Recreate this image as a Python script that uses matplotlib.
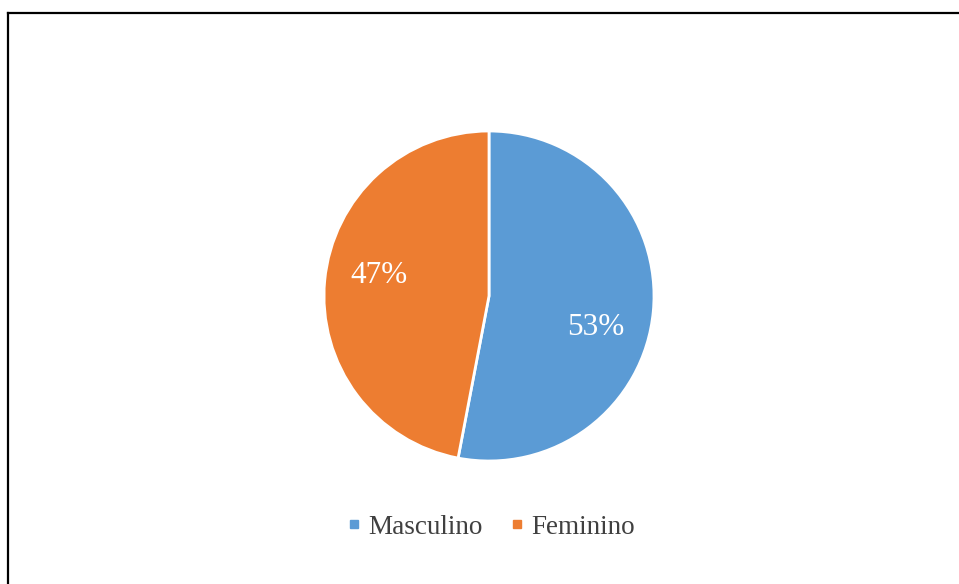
import matplotlib
matplotlib.use('Agg')
import matplotlib.pyplot as plt
from matplotlib.lines import Line2D

plt.rcParams['font.family'] = ['Liberation Serif', 'DejaVu Serif']

# Data
categories = ['Masculino', 'Feminino']
shares = [53, 47]
colors = ['#5B9BD5', '#ED7D31']

W, H = 959, 584
fig = plt.figure(figsize=(W / 100, H / 100), dpi=100)

# pie axes: centre (489, 296) px, radius 165 px
cx, cy, r = 489, 296, 165
ax = fig.add_axes([(cx - r) / W, (H - cy - r) / H, 2 * r / W, 2 * r / H])
wedges, _, autotexts = ax.pie(shares, colors=colors, startangle=90, counterclock=False,
                              radius=1, autopct='%.0f%%', pctdistance=0.68,
                              wedgeprops=dict(edgecolor='white', linewidth=2),
                              textprops=dict(color='white', fontsize=22.5))
for w in wedges:
    w.set_clip_on(False)
# nudge data labels to where Excel put them
autotexts[0].set_position((0.65, -0.19))
autotexts[1].set_position((-0.665, 0.125))
ax.set_xlim(-1, 1)
ax.set_ylim(-1, 1)
ax.set_aspect('equal')
ax.axis('off')

# legend
handles = [Line2D([], [], marker='s', linestyle='none', markersize=6,
                  markerfacecolor=c, markeredgecolor=c) for c in colors]
fig.legend(handles, categories, loc='center', bbox_to_anchor=(489 / W, 1 - 527 / H),
           ncol=2, frameon=False, fontsize=19.5, handletextpad=0.1, columnspacing=0.9,
           handlelength=0.8, labelcolor='#404040')

# frame lines (top and left edge only visible)
fig.add_artist(Line2D([7.5 / W, 1], [1 - 12.5 / H, 1 - 12.5 / H], color='black', linewidth=1.6))
fig.add_artist(Line2D([7.5 / W, 7.5 / W], [0, 1 - 12.5 / H], color='black', linewidth=1.6))

fig.savefig('out.png', dpi=100)
